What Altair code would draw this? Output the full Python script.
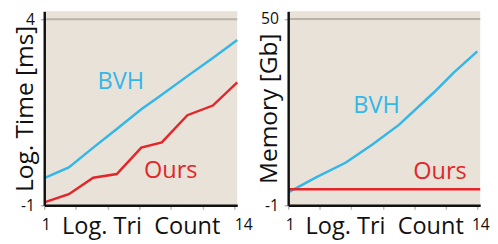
import altair as alt
import pandas as pd

# ---- data ----
series = ["BVH", "Ours"]
colors = ["#33b7e8", "#e4252a"]

# left panel: log time
time_x = [1, 2.68, 4.35, 5.96, 7.64, 9.04, 10.79, 12.53, 14.2]
time_bvh = [-0.27, 0.02, 0.55, 1.05, 1.58, 1.97, 2.47, 2.96, 3.44]
time_ours = [-0.92, -0.70, -0.26, -0.16, 0.55, 0.69, 1.42, 1.68, 2.30]

# right panel: memory
mem_bvh_x = [1.07, 2.95, 4.97, 6.79, 8.61, 11.03, 12.38, 14.0]
mem_bvh = [2.68, 6.70, 10.73, 15.64, 21.01, 29.95, 35.32, 41.15]
mem_ours_x = [1, 14.2]
mem_ours = [3.38, 3.38]

# annotations
time_lab_x = [6.23, 9.65]
time_lab_y = [2.32, -0.09]
mem_lab_x = [7.07, 11.44]
mem_lab_y = [26.1, 8.13]

x_ticks = [1, 3.1667, 5.3333, 7.5, 9.6667, 11.8333, 14]
time_ticks = [-1, 4]
mem_ticks = [-1, 50]
time_top = [4]
mem_top = [50]

FONT = "Open Sans"
BG = "#e8e2d8"
LABEL_SIZE = 16

time_df = pd.DataFrame({
    "x": time_x + time_x,
    "y": time_bvh + time_ours,
    "s": ["BVH"] * len(time_x) + ["Ours"] * len(time_x),
})
mem_df = pd.DataFrame({
    "x": mem_bvh_x + mem_ours_x,
    "y": mem_bvh + mem_ours,
    "s": ["BVH"] * len(mem_bvh_x) + ["Ours"] * len(mem_ours_x),
})
time_lab = pd.DataFrame({"x": time_lab_x, "y": time_lab_y, "s": series})
mem_lab = pd.DataFrame({"x": mem_lab_x, "y": mem_lab_y, "s": series})

color = alt.Color("s:N", scale=alt.Scale(domain=series, range=colors), legend=None)


def x_axis(last_offset):
    return alt.Axis(
        values=x_ticks,
        labelExpr="datum.value == 1 ? '1' : (datum.value == 14 ? '14' : '')",
        labelAlign="left", labelFlush=False, labelOverlap=False,
        labelFont=FONT, labelFontSize=LABEL_SIZE, labelPadding=8, labelColor="#111",
        labelOffset={"condition": {"test": "datum.value == 14", "value": last_offset}, "value": -3},
        tickSize=4, tickColor="#b8b8b8", tickWidth=1.5,
        domainColor="#111", domainWidth=2.5,
        title="Log. Tri\u00a0 Count", titleFont=FONT, titleFontSize=24,
        titleFontWeight="normal", titleColor="#111",
        titleY=10, titleBaseline="top",
        grid=False, zindex=1,
    )


def y_axis(vals, title):
    return alt.Axis(
        values=vals, labelExpr="'' + datum.value",
        labelFont=FONT, labelFontSize=LABEL_SIZE, labelPadding=6, labelColor="#111",
        tickSize=4, tickColor="#b8b8b8", tickWidth=1.5,
        domainColor="#111", domainWidth=2.5,
        title=title, titleFont=FONT, titleFontSize=25, titleFontWeight="normal",
        titleColor="#111", titleAngle=270, titleX=-12, titleBaseline="alphabetic",
        grid=False, zindex=1,
    )


def panel(df, lab, top, ydom, yvals, ytitle, w, last_offset):
    xs = alt.Scale(domain=[1, 14.2], nice=False, zero=False)
    ys = alt.Scale(domain=ydom, nice=False, zero=False)
    xe = alt.X("x:Q", scale=xs, axis=x_axis(last_offset))
    ye = alt.Y("y:Q", scale=ys, axis=y_axis(yvals, ytitle))
    rule = alt.Chart(pd.DataFrame({"y": top})).mark_rule(
        color="#b9b2a7", strokeWidth=2
    ).encode(y=ye)
    lines = alt.Chart(df).mark_line(strokeWidth=2.5).encode(
        x=xe, y=ye, color=color, detail="s:N"
    )
    text = alt.Chart(lab).mark_text(
        font=FONT, fontSize=24, align="center", baseline="middle"
    ).encode(x=xe, y=ye, text="s:N", color=color)
    return alt.layer(rule, lines, text).properties(width=w, height=198)


left = panel(time_df, time_lab, time_top, [-1, 4.21], time_ticks, "Log. Time [ms]", 197, 0)
right = panel(mem_df, mem_lab, mem_top, [-1, 52.1], mem_ticks, "Memory [Gb]", 196, -6)

chart = alt.hconcat(left, right, spacing=52, bounds="flush").properties(
    padding={"left": 4, "top": 0, "right": 0, "bottom": 0}
).configure_view(fill=BG, stroke=None).configure_axis(
    labelFontSize=LABEL_SIZE, labelFont=FONT
)

chart.save("out.html", embed_options={"renderer": "svg", "actions": False})
